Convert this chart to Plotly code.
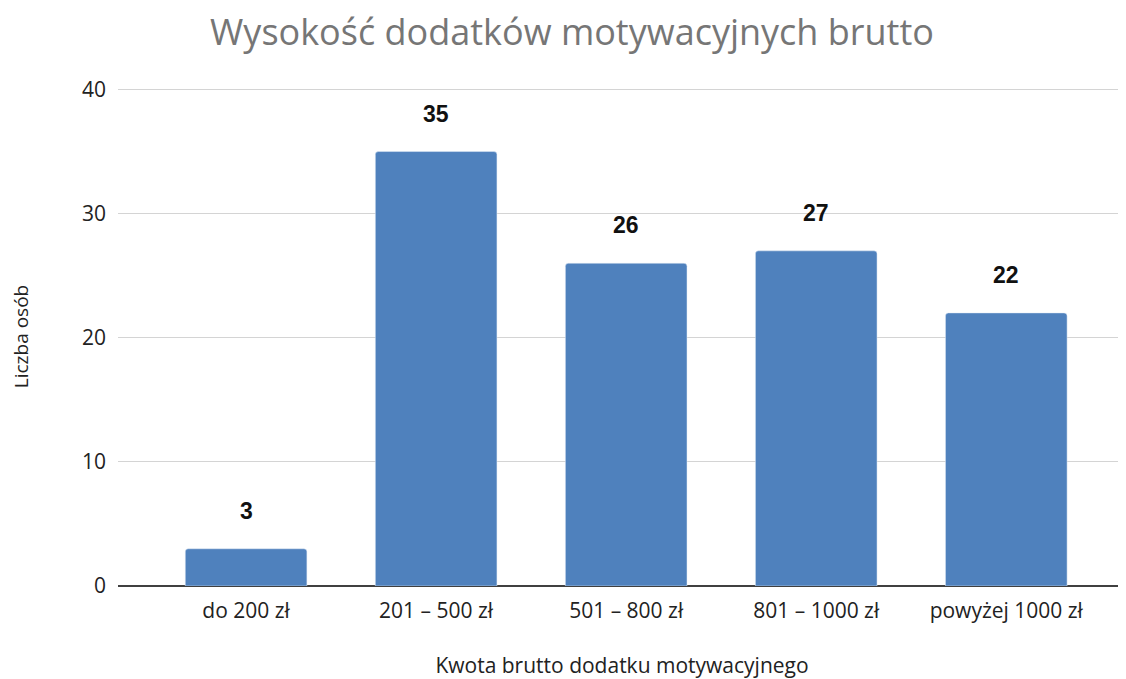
import plotly.graph_objects as go

categories = ["do 200 zł", "201 – 500 zł", "501 – 800 zł", "801 – 1000 zł", "powyżej 1000 zł"]
values = [3, 35, 26, 27, 22]
y_ticks = [0, 10, 20, 30, 40]

fig = go.Figure()
fig.add_trace(go.Bar(
    x=categories, y=values,
    marker=dict(color="#4F81BD", cornerradius=3),
    width=0.64,
    hoverinfo="skip",
))

for c, v in zip(categories, values):
    fig.add_annotation(x=c, y=v, text=f"<b>{v}</b>", showarrow=False,
                       yshift=38, yanchor="middle",
                       font=dict(family="Liberation Sans, Arial", size=23, color="#111111"))

fig.update_layout(
    width=1118, height=671,
    margin=dict(l=110, r=0, t=79, b=93),
    paper_bgcolor="white", plot_bgcolor="white",
    title=dict(text="Wysokość dodatków motywacyjnych brutto", x=0.5045, xanchor="center",
               y=0.964, yanchor="middle",
               font=dict(family="Open Sans", size=36, color="#767676")),
    showlegend=False,
    font=dict(family="Open Sans", size=20, color="#222"),
)
fig.update_xaxes(
    range=[-0.674, 4.63], showgrid=False, showline=False, ticks="",
    tickfont=dict(size=21, color="#222"), ticklabelstandoff=10,
    title=dict(text="Kwota brutto dodatku motywacyjnego", font=dict(size=21, color="#222"), standoff=37),
)
fig.update_yaxes(
    range=[0, 40.2], tickvals=y_ticks, showgrid=True, gridcolor="#d4d4d4", gridwidth=1,
    zeroline=True, zerolinecolor="#404040", zerolinewidth=1.5,
    tickfont=dict(size=21, color="#222"), ticklabelstandoff=11,
    title=dict(text="Liczba osób", font=dict(size=19, color="#222"), standoff=51),
)

fig.write_html("out.html")
